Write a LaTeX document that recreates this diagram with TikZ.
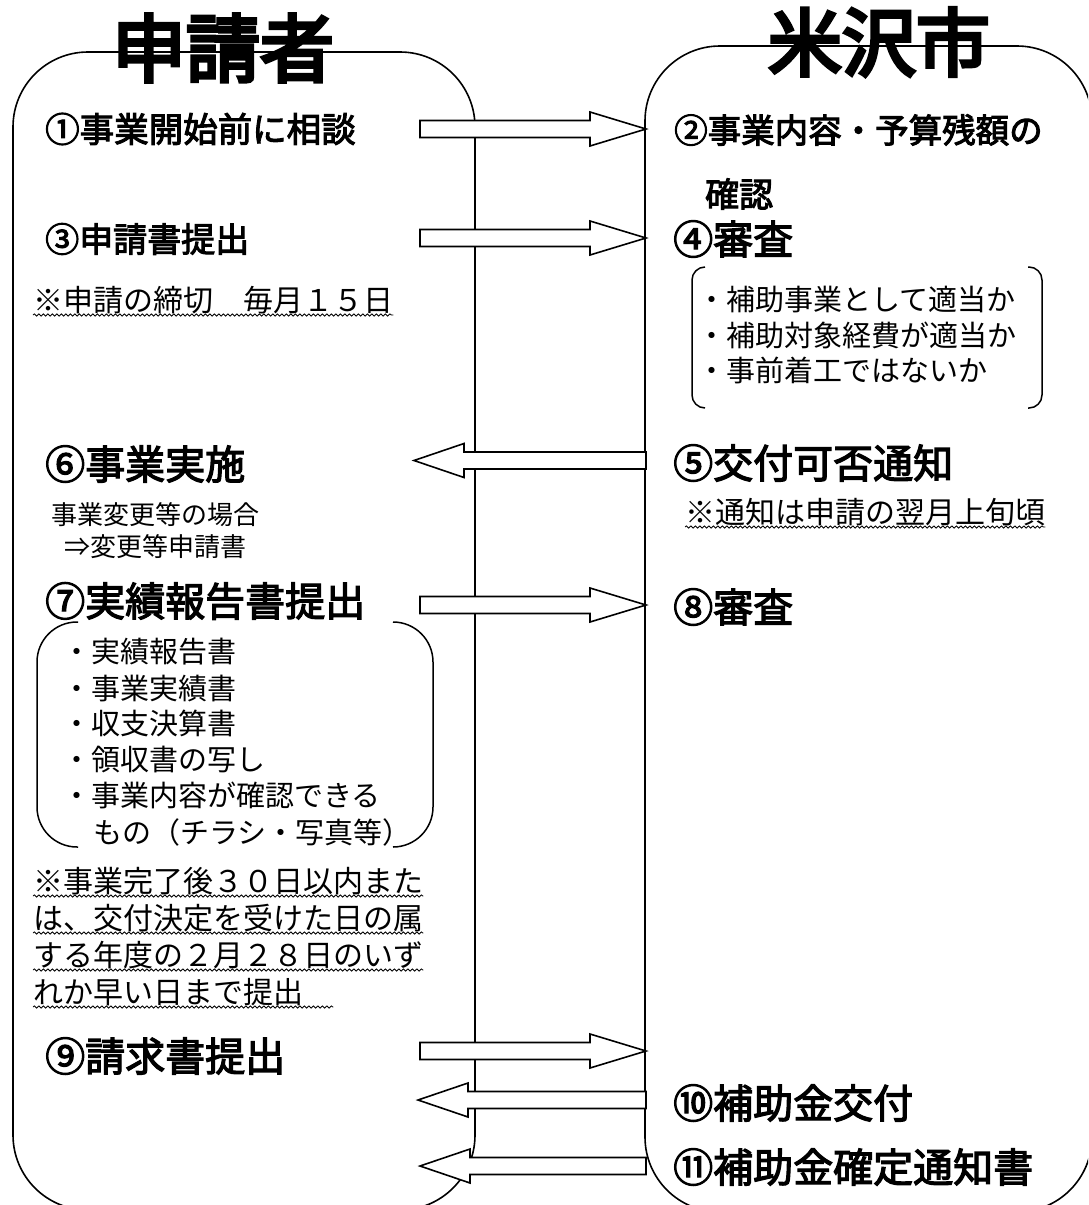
\documentclass[tikz,border=0pt]{standalone}
\usepackage{fontspec}
\setmainfont{Noto Sans CJK JP}
\newfontfamily\jp{Noto Sans CJK JP}
\newfontfamily\jphd{Noto Sans CJK JP}[FakeBold=3]
\newfontfamily\jpttl{Noto Sans CJK JP}[FakeBold=5]
\usetikzlibrary{calc,decorations.pathmorphing}

\tikzset{
  lane/.style={draw, line width=1.6, rounded corners=75, inner sep=0},
  ttl/.style={inner sep=0, font=\jpttl\fontsize{74}{74}\selectfont},
  hd/.style={anchor=west, inner sep=0, text=black},
  txt/.style={anchor=west, inner sep=0},
  blockarrow/.style={draw, fill=white, line width=1.6, line join=miter},
  wavy/.style={line width=0.8, decorate, decoration={snake, amplitude=1.1, segment length=4.5}},
  brk/.style={line width=1.5, rounded corners=#1},
}

\newcommand\hdg[5]{%
  \node[hd, font=\jphd\fontsize{#4}{#4}\selectfont] (#1) at (#2,#3) {#5};}
\newcommand\rarrow[2]{%
  \draw[blockarrow] ($(#1)+(0,-8.5)$) -- ($(#2)+(-56,-8.5)$) -- ($(#2)+(-56,-17)$) -- (#2)
    -- ($(#2)+(-56,17)$) -- ($(#2)+(-56,8.5)$) -- ($(#1)+(0,8.5)$) -- cycle;}
\newcommand\larrow[2]{%
  \draw[blockarrow] ($(#1)+(0,-8.5)$) -- ($(#2)+(50,-8.5)$) -- ($(#2)+(50,-17)$) -- (#2)
    -- ($(#2)+(50,17)$) -- ($(#2)+(50,8.5)$) -- ($(#1)+(0,8.5)$) -- cycle;}

\begin{document}
\begin{tikzpicture}[x=1pt,y=-1pt]
\clip (0,0) rectangle (1088,1205);
\fill[white] (0,0) rectangle (1088,1205);

% lanes
\node[lane, minimum width=462, minimum height=1158] (L) at (244,631) {};
\node[lane, minimum width=447, minimum height=1166] (R) at (868.5,629) {};

% titles
\node[ttl] (T1) at (223,48) {申請者};
\node[ttl] (T2) at (879,42) {米沢市};

% arrow end points
\coordinate (a1s) at (420,129);  \coordinate (a1e) at (646,129);
\coordinate (a2s) at (420,238);  \coordinate (a2e) at (646,238);
\coordinate (a3s) at (646,460.5);\coordinate (a3e) at (414,460.5);
\coordinate (a4s) at (420,605);  \coordinate (a4e) at (646,605);
\coordinate (a5s) at (420,1051); \coordinate (a5e) at (646,1051);
\coordinate (a6s) at (646,1100); \coordinate (a6e) at (418,1100);
\coordinate (a7s) at (646,1166); \coordinate (a7e) at (420,1166);

\rarrow{a1s}{a1e}
\rarrow{a2s}{a2e}
\larrow{a3s}{a3e}
\rarrow{a4s}{a4e}
\rarrow{a5s}{a5e}
\larrow{a6s}{a6e}
\larrow{a7s}{a7e}

% headings
\hdg{h1}{45}{129}{34.5}{①事業開始前に相談}
\hdg{h2}{674}{130}{33.5}{②事業内容・予算残額の}
\hdg{h2b}{705}{194}{34}{確認}
\hdg{h3}{45}{239}{34}{③申請書提出}
\hdg{h4}{673}{239}{40}{④審査}
\hdg{h5}{673}{463}{40}{⑤交付可否通知}
\hdg{h6}{45}{464}{40}{⑥事業実施}
\hdg{h7}{45}{601}{40}{⑦実績報告書提出}
\hdg{h8}{673}{607}{40}{⑧審査}
\hdg{h9}{45}{1056}{40}{⑨請求書提出}
\hdg{h10}{673}{1103}{40}{⑩補助金交付}
\hdg{h11}{673}{1167}{40}{⑪補助金確定通知書}

% notes
\begin{scope}[every node/.style={txt, font=\jp\fontsize{30}{30}\selectfont}]
  \node (n1) at (33,300) {※申請の締切　毎月１５日};
  \node (n2) at (685,512) {※通知は申請の翌月上旬頃};
  \node (n3) at (33,881) {※事業完了後３０日以内また};
  \node (n4) at (33,918) {は、交付決定を受けた日の属};
  \node (n5) at (33,955) {する年度の２月２８日のいず};
  \node (n6) at (33,992) {れか早い日まで提出};
\end{scope}
\draw[wavy] ($(n1.west)+(0,15)$) -- ($(n1.east)+(0,15)$);
\draw[wavy] ($(n2.west)+(0,15)$) -- ($(n2.east)+(0,15)$);
\draw[wavy] ($(n3.west)+(0,15)$) -- ($(n3.east)+(0,15)$);
\draw[wavy] ($(n4.west)+(0,15)$) -- ($(n4.east)+(0,15)$);
\draw[wavy] ($(n5.west)+(0,15)$) -- ($(n5.east)+(0,15)$);
\draw[wavy] ($(n6.west)+(0,15)$) -- ($(n6.east)+(30,15)$);

% step 6 sub-note
\begin{scope}[every node/.style={txt, font=\jp\fontsize{26}{26}\selectfont}]
  \node (c1) at (51,515) {事業変更等の場合};
  \node (c2) at (64,547) {⇒変更等申請書};
\end{scope}

% review list (right)
\begin{scope}[every node/.style={txt, font=\jp\fontsize{29}{29}\selectfont}]
  \node (r1) at (697,300) {・補助事業として適当か};
  \node (r2) at (697,335) {・補助対象経費が適当か};
  \node (r3) at (697,370) {・事前着工ではないか};
\end{scope}
\draw[brk=13] (705,267) -- (692,267) -- (692,408) -- (705,408);
\draw[brk=13] (1028,267) -- (1042,267) -- (1042,408) -- (1028,408);

% report list (left)
\begin{scope}[every node/.style={txt, font=\jp\fontsize{29}{29}\selectfont}]
  \node (l1) at (62,652) {・実績報告書};
  \node (l2) at (62,688) {・事業実績書};
  \node (l3) at (62,723) {・収支決算書};
  \node (l4) at (62,759) {・領収書の写し};
  \node (l5) at (62,795) {・事業内容が確認できる};
  \node (l6) at (93,832) {もの（チラシ・写真等）};
\end{scope}
\draw[brk=40] (78,622) -- (37,622) -- (37,847) -- (78,847);
\draw[brk=40] (393,622) -- (433,622) -- (433,847) -- (393,847);
\end{tikzpicture}
\end{document}
